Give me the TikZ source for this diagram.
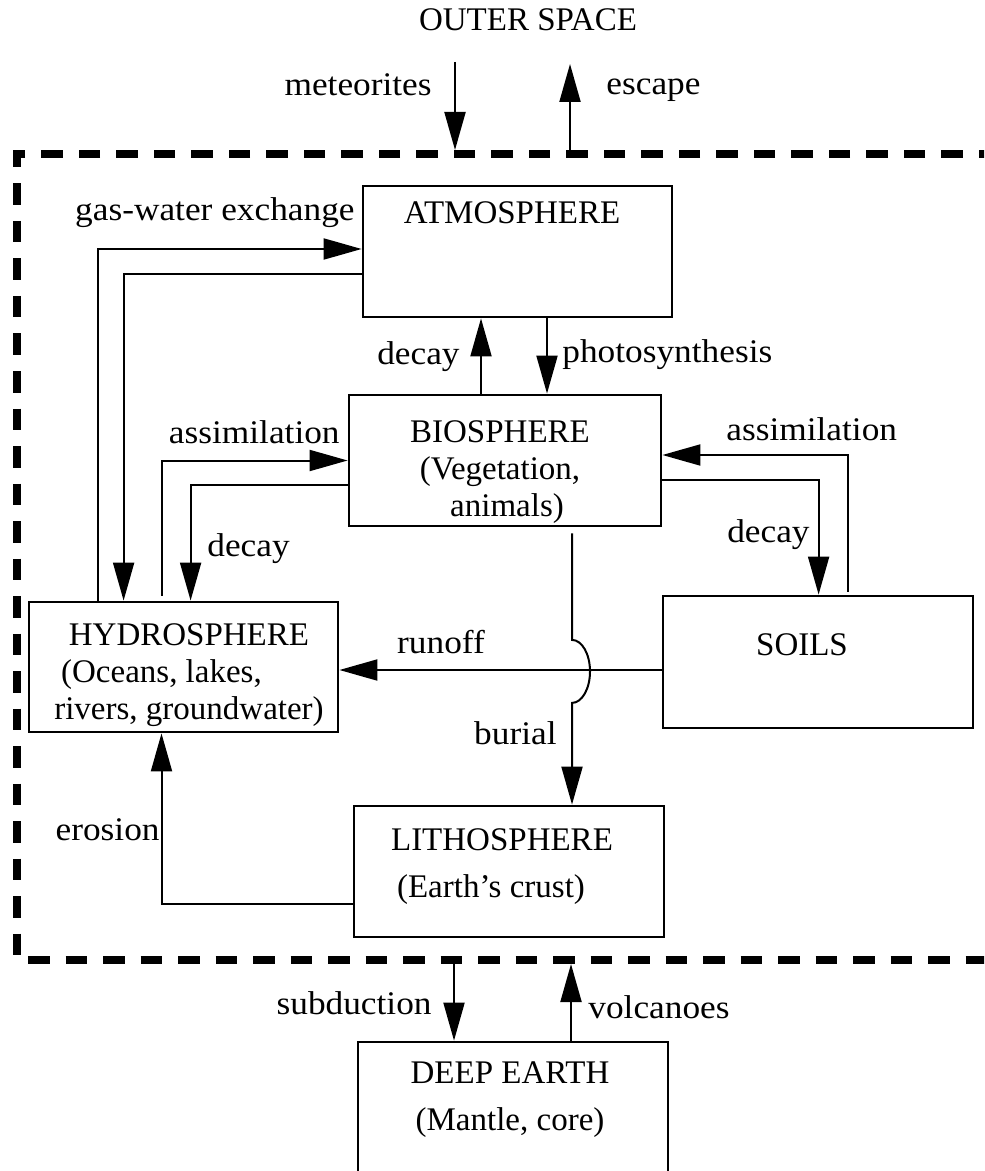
\documentclass[tikz,border=0pt]{standalone}
\usepackage{fontspec}
\setmainfont{Liberation Serif}
\newfontfamily\widefont[FakeStretch=1.07]{Liberation Serif}
\usetikzlibrary{arrows.meta}
\tikzset{
  cyclearrow/.style={-{Triangle[length=19pt,width=10.5pt]}, line width=1pt},
  cyclebox/.style={draw, line width=1.4pt, minimum width=154.5pt,
    minimum height=65.5pt, inner sep=0pt},
  cycletext/.style={inner sep=0pt, align=center,
    font=\fontsize{16.5pt}{18.5pt}\selectfont},
  cyclelabel/.style={inner sep=0pt,
    font=\widefont\fontsize{16.5pt}{18.5pt}\selectfont},
  cycleframe/.style={line width=3.65pt, dash pattern=on 10.75pt off 8pt}
}

\begin{document}
\begin{tikzpicture}[x=0.5pt,y=-0.5pt]
  \useasboundingbox (0,0) rectangle (984,1171);
  \clip (0,0) rectangle (984,1171);

  % system boundary
  \draw[cycleframe] (1000,154) -- (17,154) -- (17,960) -- (1000,960);
  \coordinate (metstart) at (455,62);
  \coordinate (metport) at (455,150);
  \coordinate (escport) at (570,154);
  \coordinate (escend) at (570,64);
  \coordinate (subport) at (454,960);
  \coordinate (volcport) at (571,964);

  % reservoirs
  \node[cyclebox] (atm) at (517.5,251.5) {};
  \node[cyclebox, minimum width=156pt] (bio) at (505,460.5) {};
  \node[cyclebox, minimum height=65pt] (hydro) at (183.5,667) {};
  \node[cyclebox, minimum width=155pt, minimum height=66pt] (soils)
    at (818,662) {};
  \node[cyclebox, minimum width=155pt] (litho) at (509,871.5) {};
  \node[cyclebox, minimum width=155pt, minimum height=80pt] (deep)
    at (513,1122) {};

  \node[cycletext] (outer) at (528,20) {OUTER SPACE};
  \node[cycletext] (atmtext) at (512,213) {ATMOSPHERE};
  \node[cycletext] (biotext) at (500,472)
    {BIOSPHERE\\(Vegetation,\\\rule{7pt}{0pt}animals)};
  \node[cycletext] (hydrotext) at (189,675)
    {HYDROSPHERE\\(Oceans, lakes,\rule{27.5pt}{0pt}\\rivers, groundwater)};
  \node[cycletext] (soilstext) at (802,645) {SOILS};
  \node[cycletext] (lithotext) at (502,867)
    {LITHOSPHERE\\[5pt](Earth's crust)\rule{11pt}{0pt}};
  \node[cycletext] (deeptext) at (510,1100)
    {DEEP EARTH\\[5pt](Mantle, core)};

  % flux labels
  \node[cyclelabel, anchor=east] (metlabel) at (432,85) {meteorites};
  \node[cyclelabel, anchor=west] (esclabel) at (606,90) {escape};
  \node[cyclelabel, anchor=east] (gaslabel) at (355,213) {gas-water exchange};
  \node[cyclelabel, anchor=east] (decayup) at (460,357) {decay};
  \node[cyclelabel, anchor=west] (photolabel) at (562,355) {photosynthesis};
  \node[cyclelabel, anchor=east] (assimleft) at (340,432) {assimilation};
  \node[cyclelabel, anchor=west] (decayleft) at (207,549) {decay};
  \node[cyclelabel, anchor=west] (assimright) at (726,429) {assimilation};
  \node[cyclelabel, anchor=east] (decayright) at (810,535) {decay};
  \node[cyclelabel] (runofflabel) at (441,642) {runoff};
  \node[cyclelabel, anchor=east] (buriallabel) at (557,733) {burial};
  \node[cyclelabel, anchor=east] (erosionlabel) at (160,830) {erosion};
  \node[cyclelabel, anchor=east] (sublabel) at (432,1003) {subduction};
  \node[cyclelabel, anchor=west] (volclabel) at (588,1007) {volcanoes};

  % fluxes
  \draw[cyclearrow] (metstart) -- (metport);
  \draw[cyclearrow] (escport) -- (escend);
  \draw[cyclearrow] ([xshift=35pt]hydro.north west) |-
    ([yshift=1.25pt]atm.west);
  \draw[cyclearrow] ([yshift=-11.25pt]atm.west) -|
    ([xshift=48pt]hydro.north west);
  \draw[cyclearrow] ([xshift=-12pt]bio.north) -- ([xshift=-18.25pt]atm.south);
  \draw[cyclearrow] ([xshift=14.75pt]atm.south) -- ([xshift=21pt]bio.north);
  \draw[cyclearrow] ([shift={(67pt,2.5pt)}]hydro.north west) |- (bio.west);
  \draw[cyclearrow] ([yshift=-12.25pt]bio.west) -|
    ([xshift=81.5pt]hydro.north west);
  \draw[cyclearrow] ([shift={(93pt,1.5pt)}]soils.north west) |-
    ([yshift=2.75pt]bio.east);
  \draw[cyclearrow] ([yshift=-9.75pt]bio.east) -|
    ([xshift=78.5pt]soils.north west);
  \draw[cyclearrow] ([yshift=-4pt]soils.west) -- ([yshift=-1.5pt]hydro.east);
  \draw[cyclearrow] ([shift={(33.5pt,-3pt)}]bio.south) -- ++(0,106.5)
    arc[start angle=-90, end angle=90, x radius=18, y radius=31.5]
    -- ([xshift=31.5pt]litho.north);
  \draw[cyclearrow] ([yshift=-16pt]litho.west) -| ([xshift=-11pt]hydro.south);
  \draw[cyclearrow] (subport) -- ([xshift=-29.5pt]deep.north);
  \draw[cyclearrow] ([xshift=29pt]deep.north) -- (volcport);
\end{tikzpicture}
\end{document}
